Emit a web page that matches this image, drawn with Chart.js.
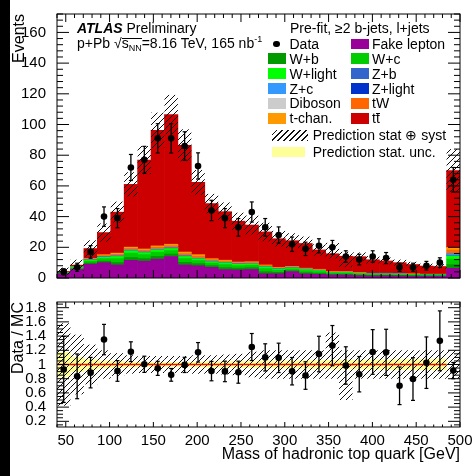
<!DOCTYPE html>
<html>
<head>
<meta charset="utf-8">
<title>Mass of hadronic top quark</title>
<script src="https://cdn.jsdelivr.net/npm/chart.js@4.4.1/dist/chart.umd.min.js"></script>
<style>
html, body { margin: 0; padding: 0; background: #fff; }
#wrap { position: relative; width: 473px; height: 476px; overflow: hidden; font-family: "Liberation Sans", Arial, sans-serif; color: #000; }
#strip { position: absolute; left: 0; top: 0; width: 10px; height: 476px; background: #000; }
#cTop, #cRatio { position: absolute; left: 0; }
#cTop { top: 0; }
#cRatio { top: 290px; }
.t { position: absolute; font-size: 14px; line-height: 16px; white-space: nowrap; }
.t sub { font-size: 9px; vertical-align: -3px; line-height: 0; }
.t sup { font-size: 9px; vertical-align: 6px; line-height: 0; }
.sw { position: absolute; }
.bar { display: inline-block; border-top: 1px solid #000; line-height: 9px; }
</style>
</head>
<body>
<div id="wrap">
  <canvas id="cTop" width="473" height="290"></canvas>
  <canvas id="cRatio" width="473" height="186"></canvas>
  <div id="strip"></div>
  <div id="notes"></div>
</div>
<script>
// 30 bins from 40 to 500 GeV, the last one also holds the overflow
const binEdges = [40, 55.33, 70.67, 86, 101.33, 116.67, 132, 147.33, 162.67, 178, 193.33, 208.67, 224, 239.33, 254.67, 270,
                  285.33, 300.67, 316, 331.33, 346.67, 362, 377.33, 392.67, 408, 423.33, 438.67, 454, 469.33, 484.67, 500];
const xTicks = [50, 100, 150, 200, 250, 300, 350, 400, 450, 500];
const yTicks = [0, 20, 40, 60, 80, 100, 120, 140, 160];
const ratioTicks = [0.2, 0.4, 0.6, 0.8, 1, 1.2, 1.4, 1.6, 1.8];

const dataCounts = [4, 7, 17, 40, 39, 72, 77, 91, 91, 86, 73, 44, 39, 33, 43, 33, 28, 22, 19, 21, 20, 14, 12, 14, 13, 7, 7, 8, 10, 64];

const fakeLepton = [2.8, 5.6, 9.0, 10.0, 8.5, 11.5, 11.0, 12.3, 14.0, 8.5, 8.0, 7.0, 5.5, 5.3, 5.6, 2.8, 2.8, 4.2, 2.7, 2.4, 2.0, 2.0, 1.6, 1.4, 1.5, 1.4, 1.2, 1.1, 1.1, 6.3];
const wB = [0.2, 0.4, 0.8, 1.0, 1.6, 1.9, 1.7, 1.8, 1.6, 1.7, 1.4, 1.1, 1.3, 1.1, 1.1, 1.3, 0.9, 0.7, 0.8, 0.7, 0.5, 0.5, 0.4, 0.4, 0.3, 0.3, 0.3, 0.3, 0.3, 2.4];
const wC = [0.3, 0.6, 1.2, 1.6, 2.5, 2.8, 2.5, 2.7, 2.3, 2.5, 2.0, 1.6, 1.9, 1.6, 1.6, 2.0, 1.4, 1.0, 1.3, 1.1, 0.7, 0.7, 0.6, 0.5, 0.5, 0.5, 0.5, 0.4, 0.4, 3.6];
const wLight = [0.1, 0.4, 0.6, 0.9, 1.4, 1.5, 1.3, 1.5, 1.3, 1.3, 1.1, 0.9, 1.1, 0.9, 0.9, 1.1, 0.7, 0.6, 0.7, 0.6, 0.3, 0.4, 0.3, 0.3, 0.3, 0.3, 0.2, 0.2, 0.2, 2.0];
const zB = [0.03, 0.05, 0.1, 0.12, 0.15, 0.18, 0.18, 0.18, 0.18, 0.18, 0.15, 0.15, 0.15, 0.12, 0.12, 0.12, 0.1, 0.1, 0.1, 0.1, 0.06, 0.06, 0.06, 0.06, 0.06, 0.06, 0.06, 0.06, 0.06, 0.5];
const zC = [0.03, 0.05, 0.1, 0.14, 0.17, 0.2, 0.2, 0.2, 0.2, 0.2, 0.17, 0.17, 0.17, 0.14, 0.14, 0.14, 0.1, 0.1, 0.1, 0.1, 0.07, 0.07, 0.07, 0.07, 0.07, 0.07, 0.07, 0.07, 0.07, 0.6];
const zLight = [0.02, 0.03, 0.06, 0.08, 0.1, 0.12, 0.12, 0.12, 0.12, 0.12, 0.1, 0.1, 0.1, 0.08, 0.08, 0.08, 0.06, 0.06, 0.06, 0.06, 0.04, 0.04, 0.04, 0.04, 0.04, 0.04, 0.04, 0.04, 0.04, 0.35];
const diboson = [0.02, 0.02, 0.04, 0.06, 0.08, 0.1, 0.1, 0.1, 0.1, 0.1, 0.08, 0.08, 0.08, 0.06, 0.06, 0.06, 0.04, 0.04, 0.04, 0.04, 0.03, 0.03, 0.03, 0.03, 0.03, 0.03, 0.03, 0.03, 0.03, 0.25];
const tW = [0.15, 0.2, 0.45, 0.7, 0.9, 1.0, 1.0, 1.1, 1.2, 1.25, 1.2, 0.8, 0.7, 0.6, 0.55, 0.5, 0.45, 0.4, 0.35, 0.35, 0.3, 0.25, 0.25, 0.2, 0.2, 0.2, 0.2, 0.2, 0.2, 2.2];
const tChan = [0.15, 0.15, 0.35, 0.6, 0.8, 0.8, 0.8, 0.9, 1.0, 1.05, 1.0, 0.7, 0.6, 0.5, 0.45, 0.4, 0.35, 0.3, 0.25, 0.25, 0.2, 0.15, 0.15, 0.1, 0.1, 0.1, 0.1, 0.1, 0.1, 1.7];
const ttbar = [0.5, 0.9, 6.5, 14.4, 26.7, 40.9, 57.9, 75.3, 84.5, 69.6, 47.1, 35.9, 31.6, 26.6, 23.9, 21.5, 18.7, 16.8, 16.1, 12.6, 11.6, 10.0, 10.4, 8.8, 8.0, 7.0, 6.1, 5.3, 5.0, 50.1];

// relative uncertainties of the prediction
const systUp = [0.58, 0.42, 0.28, 0.2, 0.16, 0.13, 0.12, 0.12, 0.12, 0.12, 0.13, 0.13, 0.14, 0.15, 0.18, 0.2, 0.2, 0.2, 0.2, 0.2, 0.45, 0.2, 0.2, 0.2, 0.2, 0.2, 0.2, 0.2, 0.2, 0.2];
const systDown = [0.58, 0.42, 0.28, 0.2, 0.16, 0.13, 0.12, 0.12, 0.12, 0.12, 0.13, 0.13, 0.14, 0.15, 0.18, 0.2, 0.2, 0.2, 0.2, 0.2, 0.2, 0.5, 0.2, 0.2, 0.2, 0.2, 0.2, 0.2, 0.2, 0.2];
const statUnc = [0.17, 0.1, 0.07, 0.05, 0.045, 0.035, 0.03, 0.03, 0.03, 0.03, 0.035, 0.04, 0.04, 0.045, 0.045, 0.05, 0.05, 0.05, 0.055, 0.055, 0.06, 0.06, 0.06, 0.065, 0.065, 0.07, 0.07, 0.07, 0.075, 0];

const stackDefs = [
  { label: 'Fake lepton', values: fakeLepton, color: '#990099' },
  { label: 'W+b', values: wB, color: '#009900' },
  { label: 'W+c', values: wC, color: '#00cc00' },
  { label: 'W+light', values: wLight, color: '#00ff00' },
  { label: 'Z+b', values: zB, color: '#3366cc' },
  { label: 'Z+c', values: zC, color: '#3399ff' },
  { label: 'Z+light', values: zLight, color: '#0033cc' },
  { label: 'Diboson', values: diboson, color: '#cccccc' },
  { label: 'tW', values: tW, color: '#ff6600' },
  { label: 't-chan.', values: tChan, color: '#ff9900' },
  { label: 'ttbar', values: ttbar, color: '#cc0000' }
];

const centers = binEdges.slice(0, -1).map((e, i) => (e + binEdges[i + 1]) / 2);
const total = centers.map((_, i) => stackDefs.reduce((s, d) => s + d.values[i], 0));
const ratio = dataCounts.map((d, i) => d / total[i]);
const ratioErr = dataCounts.map((d, i) => Math.sqrt(d) / total[i]);

const font = 'Liberation Sans';

function hatch(ctx) {
  const c = document.createElement('canvas');
  c.width = 6; c.height = 6;
  const g = c.getContext('2d');
  g.strokeStyle = '#111';
  g.lineWidth = 1;
  g.beginPath();
  g.moveTo(0, 6); g.lineTo(6, 0);
  g.moveTo(-1, 1); g.lineTo(1, -1);
  g.moveTo(5, 7); g.lineTo(7, 5);
  g.stroke();
  return ctx.createPattern(c, 'repeat');
}

// frame with inward ticks on all four sides
const axisFrame = {
  id: 'axisFrame',
  afterDraw(chart, args, o) {
    const { ctx, chartArea: a } = chart;
    const sx = chart.scales.x, sy = chart.scales.y;
    ctx.save();
    ctx.strokeStyle = '#000';
    ctx.lineWidth = 1;
    ctx.beginPath();
    const n = Math.round((sx.max - sx.min) / o.xStep);
    for (let k = 0; k <= n; k++) {
      const v = sx.min + k * o.xStep;
      const len = xTicks.some(m => Math.abs(m - v) < 1e-6) ? o.xMajor : o.xMinor;
      const px = sx.getPixelForValue(v);
      ctx.moveTo(px, a.bottom); ctx.lineTo(px, a.bottom - len);
      ctx.moveTo(px, a.top); ctx.lineTo(px, a.top + len);
    }
    const k0 = Math.ceil(sy.min / o.yStep - 1e-9);
    for (let k = k0; k * o.yStep <= sy.max + 1e-9; k++) {
      const v = k * o.yStep;
      const len = o.yTicks.some(m => Math.abs(m - v) < 1e-6) ? o.yMajor : o.yMinor;
      const py = sy.getPixelForValue(v);
      ctx.moveTo(a.left, py); ctx.lineTo(a.left + len, py);
      ctx.moveTo(a.right, py); ctx.lineTo(a.right - len, py);
    }
    ctx.stroke();
    ctx.strokeRect(a.left, a.top, a.right - a.left, a.bottom - a.top);
    ctx.restore();
  }
};

const pts = (vals) => centers.map((x, i) => ({ x, y: vals[i] }));

// ---- top panel ----
const topCtx = document.getElementById('cTop').getContext('2d');
const topSets = stackDefs.map(d => ({
  type: 'bar', label: d.label, data: pts(d.values), backgroundColor: d.color,
  borderWidth: 0, barPercentage: 1, categoryPercentage: 1, order: 10, yAxisID: 'y'
}));
topSets.push({
  type: 'bar', label: 'Prediction stat ⊕ syst',
  data: centers.map((x, i) => ({ x, y: [total[i] * (1 - systDown[i]), total[i] * (1 + systUp[i])] })),
  backgroundColor: hatch(topCtx), borderWidth: 0, barPercentage: 1, categoryPercentage: 1,
  inflateAmount: 0, order: 5, yAxisID: 'yb'
});
topSets.push({
  type: 'bar', label: 'err',
  data: centers.map((x, i) => ({ x, y: [dataCounts[i] - Math.sqrt(dataCounts[i]), dataCounts[i] + Math.sqrt(dataCounts[i])] })),
  backgroundColor: '#000', borderWidth: 0, barThickness: 1.3, inflateAmount: 0, order: 2, yAxisID: 'yb'
});
topSets.push({
  type: 'line', label: 'caps', showLine: false,
  data: centers.flatMap((x, i) => [{ x, y: dataCounts[i] - Math.sqrt(dataCounts[i]) }, { x, y: dataCounts[i] + Math.sqrt(dataCounts[i]) }]),
  pointStyle: 'line', pointRadius: 2, pointBorderColor: '#000', pointBorderWidth: 1.2, order: 1, yAxisID: 'yb'
});
topSets.push({
  type: 'line', label: 'Data', showLine: false, data: pts(dataCounts),
  pointRadius: 3.3, pointBackgroundColor: '#000', pointBorderWidth: 0, order: 0, yAxisID: 'yb'
});

new Chart(topCtx, {
  type: 'bar',
  data: { datasets: topSets },
  options: {
    responsive: false, animation: false, events: [],
    layout: { padding: { top: 14, right: 13, bottom: 8.5, left: 0 } },
    plugins: {
      legend: { display: false }, tooltip: { enabled: false },
      axisFrame: { xStep: 10, xMajor: 8, xMinor: 4, yStep: 4, yTicks: yTicks, yMajor: 12, yMinor: 6 }
    },
    scales: {
      x: { type: 'linear', min: 40, max: 500, stacked: true, offset: false, display: false },
      y: {
        min: 0, max: 172, stacked: true,
        grid: { display: false }, border: { display: false },
        afterFit: s => { s.width = 57; },
        afterBuildTicks: s => { s.ticks = yTicks.map(v => ({ value: v })); },
        ticks: { font: { family: font, size: 15 }, color: '#000', padding: 3, autoSkip: false },
        title: { display: true, text: 'Events', align: 'end', color: '#000', font: { family: font, size: 16 }, padding: { top: 10, bottom: 0 } }
      },
      yb: { min: 0, max: 172, display: false }
    }
  },
  plugins: [axisFrame]
});

// ---- ratio panel ----
const botCtx = document.getElementById('cRatio').getContext('2d');
const ratioSets = [
  {
    type: 'bar', label: 'Prediction stat. unc.',
    data: centers.map((x, i) => ({ x, y: statUnc[i] > 0 ? [1 - statUnc[i], 1 + statUnc[i]] : null })),
    backgroundColor: '#ffff99', borderWidth: 0, barPercentage: 1, categoryPercentage: 1, order: 6
  },
  {
    type: 'bar', label: 'Prediction stat ⊕ syst',
    data: centers.map((x, i) => ({ x, y: [1 - systDown[i], 1 + systUp[i]] })),
    backgroundColor: hatch(botCtx), borderWidth: 0, barPercentage: 1, categoryPercentage: 1,
    inflateAmount: 0, order: 5
  },
  {
    type: 'line', label: 'one', data: [{ x: binEdges[0], y: 1 }, { x: binEdges[29], y: 1 }],
    borderColor: '#ee1100', borderWidth: 1.5, pointRadius: 0, order: 3
  },
  {
    type: 'bar', label: 'err',
    data: centers.map((x, i) => ({ x, y: [ratio[i] - ratioErr[i], ratio[i] + ratioErr[i]] })),
    backgroundColor: '#000', borderWidth: 0, barThickness: 1.3, inflateAmount: 0, order: 2
  },
  {
    type: 'line', label: 'caps', showLine: false,
    data: centers.flatMap((x, i) => [{ x, y: ratio[i] - ratioErr[i] }, { x, y: ratio[i] + ratioErr[i] }]),
    pointStyle: 'line', pointRadius: 2, pointBorderColor: '#000', pointBorderWidth: 1.2, order: 1
  },
  {
    type: 'line', label: 'Data/MC', showLine: false, data: pts(ratio),
    pointRadius: 3.3, pointBackgroundColor: '#000', pointBorderWidth: 0, order: 0
  }
];

new Chart(botCtx, {
  type: 'bar',
  data: { datasets: ratioSets },
  options: {
    responsive: false, animation: false, events: [],
    layout: { padding: { top: 6, right: 13, bottom: 0, left: 0 } },
    plugins: {
      legend: { display: false }, tooltip: { enabled: false },
      axisFrame: { xStep: 10, xMajor: 5, xMinor: 2.5, yStep: 0.05, yTicks: ratioTicks, yMajor: 12, yMinor: 6 }
    },
    scales: {
      x: {
        type: 'linear', min: 40, max: 500, stacked: true, offset: false,
        grid: { display: false }, border: { display: false },
        afterFit: s => { s.height = 49; },
        afterBuildTicks: s => { s.ticks = xTicks.map(v => ({ value: v })); },
        ticks: { font: { family: font, size: 15 }, color: '#000', padding: -3, autoSkip: false, maxRotation: 0 },
        title: { display: true, text: 'Mass of hadronic top quark [GeV]', align: 'end', color: '#000', font: { family: font, size: 16 }, padding: { top: 0, bottom: 12 } }
      },
      y: {
        min: 0.12, max: 1.88,
        grid: { display: false }, border: { display: false },
        afterFit: s => { s.width = 57; },
        afterBuildTicks: s => { s.ticks = ratioTicks.map(v => ({ value: v })); },
        ticks: { font: { family: font, size: 15 }, color: '#000', padding: 3, autoSkip: false, callback: v => String(v) },
        title: { display: true, text: 'Data / MC', align: 'end', color: '#000', font: { family: font, size: 16 }, padding: { top: 9, bottom: 0 } }
      }
    }
  },
  plugins: [axisFrame]
});

// ---- annotations and legend ----
const colorOf = {};
stackDefs.forEach(d => { colorOf[d.label] = d.color; });
const legendRows = [['Data', 'Fake lepton'], ['W+b', 'W+c'], ['W+light', 'Z+b'], ['Z+c', 'Z+light'], ['Diboson', 'tW'], ['t-chan.', 'ttbar']];
const labelHtml = l => l === 'ttbar' ? 't<span class="bar">t</span>' : l;

let html = '';
html += '<div class="t" style="left:77px;top:20px"><b><i>ATLAS</i></b> Preliminary</div>';
html += '<div class="t" style="left:77px;top:35px">p+Pb &#8730;<span class="bar">s<sub>NN</sub></span>=8.16 TeV, 165 nb<sup>-1</sup></div>';
html += '<div class="t" style="left:290px;top:20px">Pre-fit, &#8805;2 b-jets, l+jets</div>';
legendRows.forEach((row, r) => {
  const cy = 43.8 + 14.9 * r;
  row.forEach((lab, c) => {
    const boxX = c === 0 ? 268 : 351;
    const txtX = c === 0 ? 289.5 : 372;
    if (lab === 'Data') {
      html += `<div class="sw" style="left:${273}px;top:${cy - 3.3}px;width:6.6px;height:6.6px;border-radius:50%;background:#000"></div>`;
    } else {
      html += `<div class="sw" style="left:${boxX}px;top:${cy - 5.3}px;width:18px;height:10.6px;background:${colorOf[lab]}"></div>`;
    }
    html += `<div class="t" style="left:${txtX}px;top:${cy - 8}px">${labelHtml(lab)}</div>`;
  });
});
html += '<div class="sw" style="left:272px;top:130px;width:36px;height:10.5px;background:repeating-linear-gradient(-45deg, #111 0 1px, transparent 1px 4.2px)"></div>';
html += '<div class="t" style="left:312.7px;top:127px">Prediction stat &#8853; syst</div>';
html += '<div class="sw" style="left:272px;top:146.7px;width:33px;height:10.6px;background:#ffff99"></div>';
html += '<div class="t" style="left:312.7px;top:143.7px">Prediction stat. unc.</div>';
document.getElementById('notes').innerHTML = html;
</script>
</body>
</html>
